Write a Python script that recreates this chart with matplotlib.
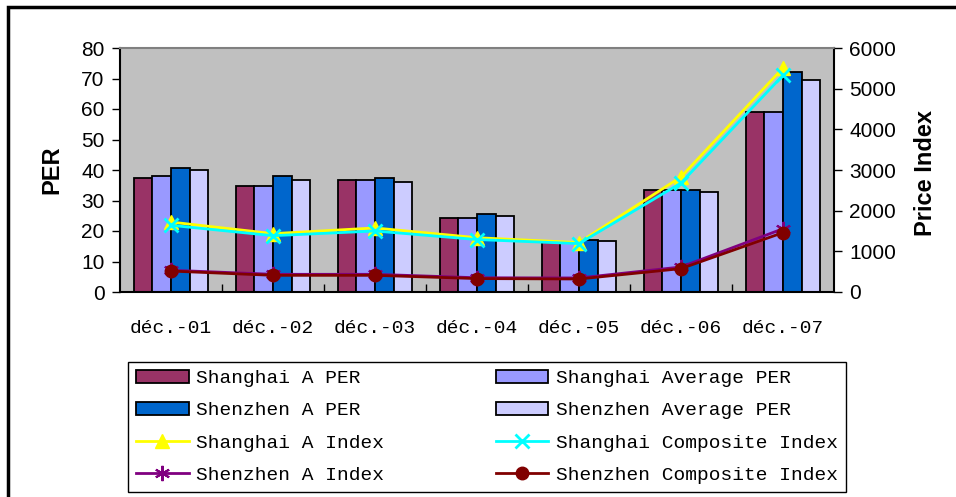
import matplotlib.pyplot as plt
import numpy as np
from matplotlib.patches import Rectangle
from matplotlib.ticker import FixedLocator

# Dados
months = ["déc.-01", "déc.-02", "déc.-03", "déc.-04", "déc.-05", "déc.-06", "déc.-07"]

sh_a_per = [37.4, 34.6, 36.6, 24.2, 16.3, 33.4, 59.0]
sh_avg_per = [38.1, 34.6, 36.6, 24.2, 16.3, 33.4, 59.0]
sz_a_per = [40.7, 38.1, 37.3, 25.7, 17.2, 33.4, 72.1]
sz_avg_per = [40.0, 36.7, 36.1, 25.0, 16.6, 32.9, 69.5]

sh_a_index = [1720, 1435, 1575, 1335, 1215, 2830, 5510]
sh_comp_index = [1640, 1385, 1500, 1290, 1190, 2680, 5330]
sz_a_index = [535, 435, 435, 350, 345, 615, 1555]
sz_comp_index = [515, 410, 410, 330, 320, 575, 1460]

W, H = 956, 497
fig = plt.figure(figsize=(W / 100, H / 100), dpi=100)
ax = fig.add_axes([120 / W, 1 - 292 / H, 714 / W, 244 / H])
ax2 = ax.twinx()

mono = "Liberation Mono"
sans = "Liberation Sans"

x = np.arange(len(months))
bw = 0.182
bar_series = [
    (sh_a_per, "#993366", "Shanghai A PER"),
    (sh_avg_per, "#9999FF", "Shanghai Average PER"),
    (sz_a_per, "#0066CC", "Shenzhen A PER"),
    (sz_avg_per, "#CCCCFF", "Shenzhen Average PER"),
]
bars = []
for k, (vals, col, lab) in enumerate(bar_series):
    b = ax.bar(x + (k - 1.5) * bw, vals, bw, color=col, edgecolor="black",
               linewidth=1.3, label=lab)
    bars.append(b)

ax.set_facecolor("#C0C0C0")
ax.set_xlim(-0.5, len(months) - 0.5)
ax.set_ylim(0, 80)
ax.set_yticks(np.arange(0, 81, 10))
ax.set_xticks(x)
ax.set_xticklabels(months, fontfamily=mono, fontsize=14)
ax.tick_params(axis="x", which="major", length=0, pad=20)
ax.xaxis.set_minor_locator(FixedLocator(np.arange(0.5, len(months) - 1, 1)))
ax.tick_params(axis="x", which="minor", direction="in", length=6, width=1)
ax.tick_params(axis="y", direction="out", length=6, width=1, labelsize=15, pad=5)
for t in ax.get_yticklabels():
    t.set_fontfamily(sans)
ax.spines["top"].set_color("#808080")
ax.spines["top"].set_linewidth(1.5)
for s in ["left", "bottom", "right"]:
    ax.spines[s].set_linewidth(1.5)

l1, = ax2.plot(x, sh_a_index, color="#FFFF00", lw=2, marker="^", ms=10,
               label="Shanghai A Index")
l2, = ax2.plot(x, sh_comp_index, color="#00FFFF", lw=2, marker="x", ms=10,
               mew=2, label="Shanghai Composite Index")
l3, = ax2.plot(x, sz_a_index, color="#800080", lw=2, marker=(6, 2, 0), ms=11,
               mew=1.5, label="Shenzhen A Index")
l4, = ax2.plot(x, sz_comp_index, color="#800000", lw=2, marker="o", ms=9,
               label="Shenzhen Composite Index")
ax2.set_ylim(0, 6000)
ax2.set_yticks(np.arange(0, 6001, 1000))
ax2.tick_params(axis="y", direction="out", length=6, width=1, labelsize=15, pad=5)
for t in ax2.get_yticklabels():
    t.set_fontfamily(sans)
for s in ax2.spines.values():
    s.set_visible(False)

fig.text(52 / W, 1 - 170 / H, "PER", rotation=90, ha="center", va="center",
         fontsize=17, fontweight="bold", fontfamily=sans)
fig.text(925 / W, 1 - 173 / H, "Price Index", rotation=90, ha="center", va="center",
         fontsize=17, fontweight="bold", fontfamily=sans)

# Legenda em 2 colunas (preenchimento por coluna)
handles = [bars[0], bars[2], l1, l3, bars[1], bars[3], l2, l4]
labels = [h.get_label() for h in handles]
leg = fig.legend(handles, labels, ncol=2, loc="upper left", mode="expand",
                 bbox_to_anchor=(128 / W, 1 - 493 / H, 718 / W, 131 / H),
                 borderaxespad=0, prop={"family": mono, "size": 14},
                 handlelength=2.7, handleheight=0.6, handletextpad=0.4,
                 labelspacing=0.78, columnspacing=1.0, fancybox=False,
                 edgecolor="black", framealpha=1, borderpad=0.42)
leg.get_frame().set_linewidth(1)

# Borda externa da figura
fig.patches.append(Rectangle((8 / W, -0.1), 1.2, 1 - 7 / H + 0.1,
                             transform=fig.transFigure, fill=False,
                             edgecolor="black", linewidth=2.5))

fig.savefig("out.png", dpi=100)
